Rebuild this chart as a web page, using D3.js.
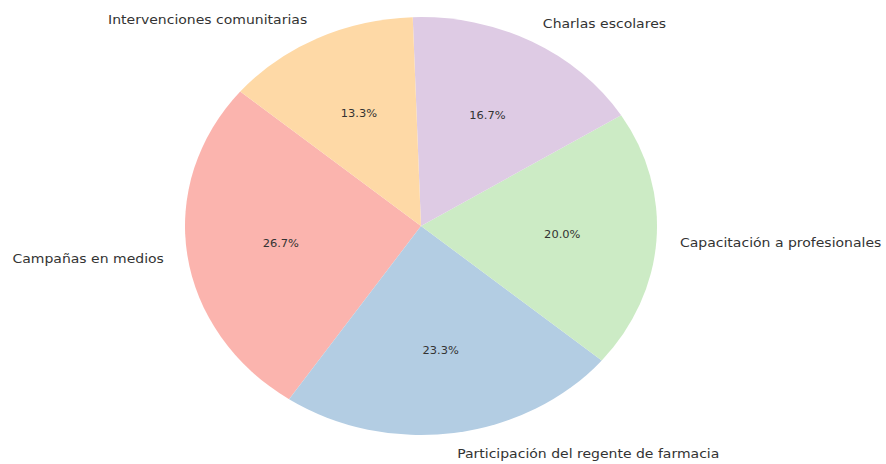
<!DOCTYPE html>
<html>
<head>
<meta charset="utf-8">
<script src="https://cdn.jsdelivr.net/npm/d3@7"></script>
<style>
  body { margin: 0; background: #fff; }
  text { font-family: "DejaVu Sans", sans-serif; fill: #333; }
</style>
</head>
<body>
<div id="chart"></div>
<script>
let categories = ["Campañas en medios", "Participación del regente de farmacia", "Capacitación a profesionales", "Charlas escolares", "Intervenciones comunitarias"];
let values = [8, 7, 6, 5, 4];
let colors = ["#fbb4ae", "#b3cde3", "#ccebc5", "#decbe4", "#fed9a6"];

let width = 886, height = 464;
let cx = 421, cy = 226, rx = 236, ry = 209;
let stretch = 1.078; // text in the picture is a bit wider than normal

let svg = d3.select("#chart").append("svg")
  .attr("width", width)
  .attr("height", height);

// matplotlib style: startangle 140, counterclockwise
let start = (90 - 140) * Math.PI / 180;
let pie = d3.pie()
  .sort(null)
  .startAngle(start)
  .endAngle(start - 2 * Math.PI);

let data = categories.map(function(c, i) { return {name: c, value: values[i], color: colors[i]}; });
let arcs = pie.value(function(d) { return d.value; })(data);
let total = d3.sum(values);

let arc = d3.arc().innerRadius(0).outerRadius(1);

// unit pie stretched to an ellipse
let g = svg.append("g")
  .attr("transform", "translate(" + cx + "," + cy + ") scale(" + rx + "," + ry + ")");

g.selectAll("path")
  .data(arcs)
  .enter().append("path")
  .attr("d", arc)
  .style("fill", function(d) { return d.data.color; });

function pos(d, k) {
  let a = (d.startAngle + d.endAngle) / 2;
  return [cx + k * rx * Math.sin(a), cy - k * ry * Math.cos(a)];
}

// category labels
svg.selectAll(".label")
  .data(arcs)
  .enter().append("text")
  .attr("class", "label")
  .attr("transform", function(d) { let p = pos(d, 1.1); return "translate(" + p[0] + "," + p[1] + ") scale(" + stretch + ",1)"; })
  .attr("dy", "0.35em")
  .attr("text-anchor", function(d) { return Math.sin((d.startAngle + d.endAngle) / 2) >= 0 ? "start" : "end"; })
  .style("font-size", "13px")
  .text(function(d) { return d.data.name; });

// percentages
svg.selectAll(".pct")
  .data(arcs)
  .enter().append("text")
  .attr("class", "pct")
  .attr("transform", function(d) { let p = pos(d, 0.6); return "translate(" + p[0] + "," + p[1] + ") scale(" + stretch + ",1)"; })
  .attr("dy", "0.35em")
  .attr("text-anchor", "middle")
  .style("font-size", "10.6px")
  .text(function(d) { return (d.data.value / total * 100).toFixed(1) + "%"; });
</script>
</body>
</html>
